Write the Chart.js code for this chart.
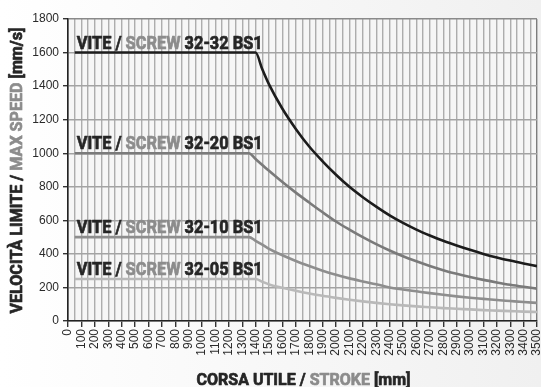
<!DOCTYPE html>
<html>
<head>
<meta charset="utf-8">
<script src="https://cdn.jsdelivr.net/npm/chart.js@4"></script>
<style>
  html, body { margin: 0; padding: 0; background: #fff; }
  #wrap { width: 541px; height: 387px; }
</style>
</head>
<body>
<div id="wrap"><canvas id="speed-chart" width="541" height="387"></canvas></div>
<script>
// stroke [mm] -> max linear speed [mm/s], one curve per screw lead
const STROKE_A = [50, 1400, 1450, 1500, 1600, 1700, 1800, 1900, 2000, 2100, 2200, 2300, 2400, 2500, 2600, 2700, 2800, 2900, 3000, 3100, 3200, 3300, 3400, 3500];
const STROKE_B = [50, 1350, 1400, 1450, 1500, 1600, 1700, 1800, 1900, 2000, 2100, 2200, 2300, 2400, 2500, 2600, 2700, 2800, 2900, 3000, 3100, 3200, 3300, 3400, 3500];

const SPEED_32_32 = [1600, 1600, 1500, 1410, 1265, 1145, 1040, 952, 872, 800, 738, 682, 630, 585, 545, 510, 478, 450, 424, 400, 379, 360, 343, 327];
const SPEED_32_20 = [1000, 1000, 965, 930, 895, 828, 765, 706, 648, 593, 545, 500, 458, 420, 386, 356, 328, 303, 281, 262, 245, 230, 216, 204, 193];
const SPEED_32_10 = [500, 500, 478, 455, 430, 392, 358, 328, 300, 275, 254, 236, 219, 200, 188, 177, 166, 156, 147, 139, 132, 125, 119, 113, 108];
const SPEED_32_05 = [250, 250, 234, 218, 198, 180, 164, 150, 138, 127, 117, 108, 100, 93, 87, 82, 77, 73, 69, 65, 62, 59, 56, 54];

const SCREWS = ['32-32 BS1', '32-20 BS1', '32-10 BS1', '32-05 BS1'];
const LINE_COLORS = ['#1c1c1c', '#7a7a7a', '#8e8e8e', '#b9b9b9'];

const X_MAX = 3500;
const Y_MAX = 1800;

const DARK = '#262626';
const GREY = '#8c8c8c';
const TITLE_FONT = 'Roboto, "Liberation Sans", sans-serif';

Chart.defaults.font.family = '"Liberation Sans", Arial, sans-serif';
Chart.defaults.color = '#2a2a2a';

const toPoints = (xs, ys) => xs.map((x, i) => ({ x, y: ys[i] }));

// draw a run of coloured text pieces, squeezed horizontally to a given width
function drawRich(ctx, parts, px, width, anchorCenter) {
    ctx.font = `bold ${px}px ${TITLE_FONT}`;
    const total = parts.reduce((w, p) => w + ctx.measureText(p.text).width, 0);
    const sx = width / total;
    ctx.save();
    ctx.scale(sx, 1);
    ctx.textBaseline = 'alphabetic';
    ctx.textAlign = 'left';
    ctx.lineWidth = 0.7;
    ctx.lineJoin = 'round';
    let cx = anchorCenter ? -total / 2 : 0;
    for (const p of parts) {
        ctx.fillStyle = p.color;
        ctx.strokeStyle = p.color;
        ctx.fillText(p.text, cx, 0);
        ctx.strokeText(p.text, cx, 0);   // a touch heavier, like a black cut
        cx += ctx.measureText(p.text).width;
    }
    ctx.restore();
}

const backdrop = {
    id: 'backdrop',
    beforeDraw(chart) {
        const { ctx, chartArea: a, width, height } = chart;
        ctx.save();
        const g = ctx.createLinearGradient(0, 0, width, 0);
        g.addColorStop(0, '#ffffff');
        g.addColorStop(1, '#f0f0f0');
        ctx.fillStyle = g;
        ctx.fillRect(0, 0, width, height);
        ctx.fillStyle = '#f6f6f6';
        ctx.fillRect(a.left, a.top, a.right - a.left, a.bottom - a.top);
        ctx.restore();
    }
};

const curveLabels = {
    id: 'curveLabels',
    afterDatasetsDraw(chart) {
        const { ctx, scales: { x, y } } = chart;
        chart.data.datasets.forEach(ds => {
            const p0 = ds.data[0];
            ctx.save();
            ctx.translate(x.getPixelForValue(p0.x) + 2, y.getPixelForValue(p0.y) - 4);
            drawRich(ctx, [
                { text: 'VITE / ', color: DARK },
                { text: 'SCREW', color: GREY },
                { text: ' ' + ds.label, color: DARK }
            ], 19, 186, false);
            ctx.restore();
        });
    }
};

const axisTitles = {
    id: 'axisTitles',
    afterDraw(chart) {
        const { ctx, chartArea: a } = chart;
        ctx.save();
        ctx.translate((a.left + a.right) / 2 + 1, 385);
        drawRich(ctx, [
            { text: 'CORSA UTILE / ', color: DARK },
            { text: 'STROKE', color: GREY },
            { text: ' [mm]', color: DARK }
        ], 17, 214, true);
        ctx.restore();

        ctx.save();
        ctx.translate(21.5, 170.5);
        ctx.rotate(-Math.PI / 2);
        drawRich(ctx, [
            { text: 'VELOCITÀ LIMITE / ', color: DARK },
            { text: 'MAX SPEED', color: GREY },
            { text: ' [mm/s]', color: DARK }
        ], 17, 286, true);
        ctx.restore();
    }
};

const series = [
    [STROKE_A, SPEED_32_32],
    [STROKE_B, SPEED_32_20],
    [STROKE_B, SPEED_32_10],
    [STROKE_A, SPEED_32_05]
];

new Chart(document.getElementById('speed-chart'), {
    type: 'line',
    data: {
        datasets: series.map(([xs, ys], i) => ({
            label: SCREWS[i],
            data: toPoints(xs, ys),
            borderColor: LINE_COLORS[i],
            borderWidth: 2.6,
            pointRadius: 0,
            fill: false,
            cubicInterpolationMode: 'monotone'
        }))
    },
    options: {
        responsive: false,
        animation: false,
        devicePixelRatio: 1,
        layout: { padding: { top: 19, right: 4, left: 0, bottom: 0 } },
        plugins: { legend: { display: false }, tooltip: { enabled: false } },
        scales: {
            x: {
                type: 'linear', min: 0, max: X_MAX,
                afterFit: s => { s.height = 66; s.paddingLeft = 0; s.paddingRight = 0; },
                grid: {
                    color: c => c.tick && c.tick.value === X_MAX ? '#7d7d7d' : '#adadad',
                    lineWidth: 1.4,
                    tickLength: 6,
                    tickColor: c => c.tick && c.tick.value % 100 === 0 ? '#333' : 'rgba(0,0,0,0)'
                },
                border: { color: '#222', width: 1.6 },
                ticks: {
                    stepSize: 50, autoSkip: false,
                    minRotation: 90, maxRotation: 90,
                    padding: 2,
                    color: '#2a2a2a',
                    font: { size: 12 },
                    callback: v => v % 100 === 0 ? String(v) : ''
                }
            },
            y: {
                min: 0, max: Y_MAX,
                afterFit: s => { s.width = 68; s.paddingTop = 0; s.paddingBottom = 0; },
                grid: {
                    color: c => c.tick && c.tick.value === Y_MAX ? '#8a8a8a' : '#a3a3a3',
                    lineWidth: 1.4,
                    tickLength: 5,
                    tickColor: '#333'
                },
                border: { color: '#222', width: 1.6 },
                ticks: {
                    stepSize: 200,
                    padding: 4,
                    color: '#2a2a2a',
                    font: { size: 12 },
                    callback: v => String(v)
                }
            }
        }
    },
    plugins: [backdrop, curveLabels, axisTitles]
});
</script>
</body>
</html>
